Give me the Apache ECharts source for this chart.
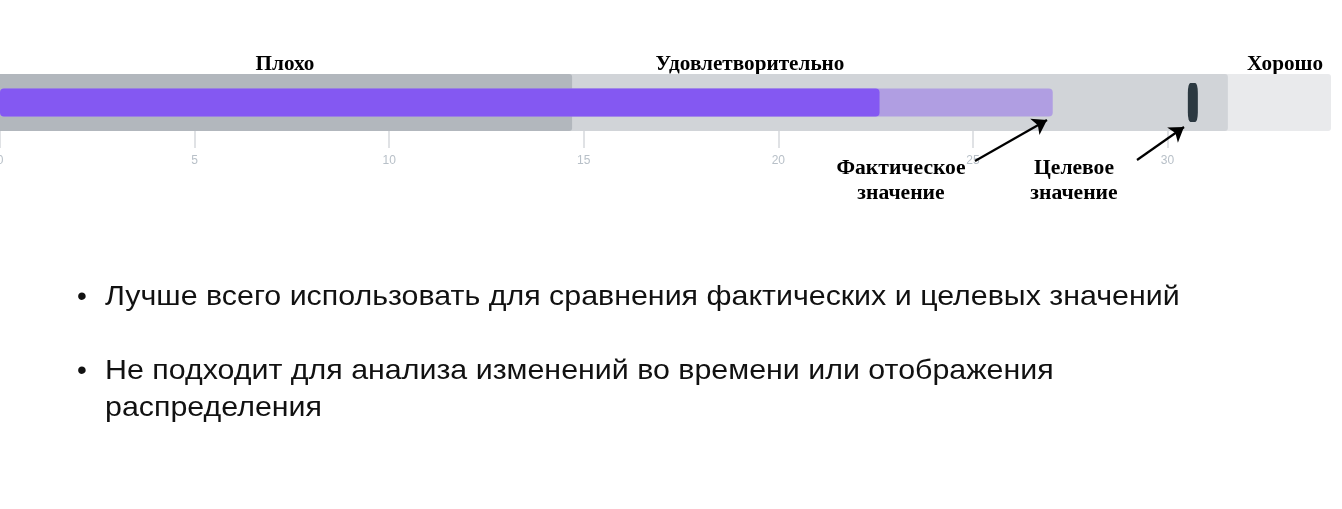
<!DOCTYPE html>
<html>
<head>
<meta charset="utf-8">
<script src="https://cdn.jsdelivr.net/npm/echarts@6/dist/echarts.min.js"></script>
<style>
    html, body { margin: 0; padding: 0; background: #fff; }
    #main { width: 1342px; height: 509px; }
</style>
</head>
<body>
<div id="main"></div>
<script>
// данные
var categories = ['KPI'];
var bandNames = ['Плохо', 'Удовлетворительно', 'Хорошо'];
var bandEnds = [14.7, 31.55, 34.2];      // правая граница каждой зоны
var forecastValue = [27.05];              // светлая полоса
var actualValue = [22.6];                 // тёмная полоса
var targetValue = [30.65];                // целевая отметка
var tickLabels = [0, 5, 10, 15, 20, 25, 30];
var bullets = [
    'Лучше всего использовать для сравнения фактических и целевых значений',
    'Не подходит для анализа изменений во времени или отображения\nраспределения'
];

var bandColors = ['#b2b7bd', '#d1d4d8', '#e9eaec'];
var serif = '"Liberation Serif", "DejaVu Serif", serif';
var sans = '"Liberation Sans", Arial, sans-serif';

var dom = document.getElementById('main');
var myChart = echarts.init(dom);
var option = null;

// зоны рисуем от широкой к узкой, все от нуля
var bandSeries = [];
for (var i = bandEnds.length - 1; i >= 0; i--) {
    bandSeries.push({
        name: bandNames[i],
        type: 'bar',
        yAxisIndex: 0,
        data: [bandEnds[i]],
        barWidth: 57,
        barGap: '-100%',
        silent: true,
        z: 1,
        itemStyle: { color: bandColors[i], borderRadius: [0, 3, 3, 0] }
    });
}

function label(text, x, y, size, sx) {
    return {
        type: 'text', x: x, y: y, scaleX: sx,
        style: { text: text, font: 'bold ' + size + 'px ' + serif, lineHeight: 25, fill: '#000', align: 'center', verticalAlign: 'middle' }
    };
}

option = {
    backgroundColor: '#ffffff',
    animation: false,
    grid: {
        left: 0,
        right: 11,
        top: 74,
        height: 57,
        containLabel: false,
        outerBoundsMode: 'none'
    },
    xAxis: {
        type: 'value',
        min: 0,
        max: bandEnds[bandEnds.length - 1],
        interval: 5,
        splitLine: { show: false },
        axisLine: { show: false },
        axisTick: { show: true, length: 17, lineStyle: { color: '#d6d9dd', width: 1.5 } },
        axisLabel: {
            margin: 24,
            color: '#b8c0c8',
            fontSize: 12,
            fontFamily: sans,
            showMaxLabel: false,
            formatter: function (v) {
                return tickLabels.indexOf(v) >= 0 ? String(v) : '';
            }
        }
    },
    yAxis: [
        { type: 'category', data: categories, show: false },
        { type: 'category', data: categories, show: false }
    ],
    series: bandSeries.concat([
        {
            name: 'Прогноз',
            type: 'bar',
            yAxisIndex: 1,
            data: forecastValue,
            barWidth: 28,
            barGap: '-100%',
            z: 3,
            itemStyle: { color: '#b09ee2', borderRadius: 4 }
        },
        {
            name: 'Фактическое значение',
            type: 'bar',
            yAxisIndex: 1,
            data: actualValue,
            barWidth: 28,
            barGap: '-100%',
            z: 4,
            itemStyle: { color: '#8458f2', borderRadius: 4 }
        },
        {
            name: 'Целевое значение',
            type: 'scatter',
            yAxisIndex: 1,
            data: [[targetValue[0], categories[0]]],
            symbol: 'roundRect',
            symbolSize: [10, 39],
            z: 5,
            itemStyle: { color: '#2c3941', opacity: 1 },
            markLine: {
                silent: true,
                symbol: ['none', 'arrow'],
                symbolSize: 14,
                label: { show: false },
                lineStyle: { color: '#000', width: 2.2, type: 'solid' },
                data: [
                    [{ x: 975, y: 161 }, { x: 1047, y: 120 }],
                    [{ x: 1137, y: 160 }, { x: 1184, y: 127 }]
                ]
            }
        }
    ]),
    graphic: [
        label(bandNames[0], 285, 64.5, 20, 1.06),
        label(bandNames[1], 750, 64.5, 20, 1.06),
        label(bandNames[2], 1285, 64.5, 20, 1.06),
        label('Фактическое\nзначение', 901, 181.5, 20, 1.08),
        label('Целевое\nзначение', 1074, 181.5, 20, 1.08),
        // маркированный список
        { type: 'text', x: 82, y: 297, style: { text: '•', font: '28px ' + sans, fill: '#111', align: 'center', verticalAlign: 'middle' } },
        { type: 'text', x: 105, y: 297, scaleX: 1.085, style: { text: bullets[0], font: '28px ' + sans, fill: '#111', align: 'left', verticalAlign: 'middle' } },
        { type: 'text', x: 82, y: 371, style: { text: '•', font: '28px ' + sans, fill: '#111', align: 'center', verticalAlign: 'middle' } },
        { type: 'text', x: 105, y: 352.5, scaleX: 1.085, style: { text: bullets[1], font: '28px ' + sans, lineHeight: 37, fill: '#111', align: 'left', verticalAlign: 'top' } }
    ]
};

if (option && typeof option === "object") {
    myChart.setOption(option, true);
}
</script>
</body>
</html>
